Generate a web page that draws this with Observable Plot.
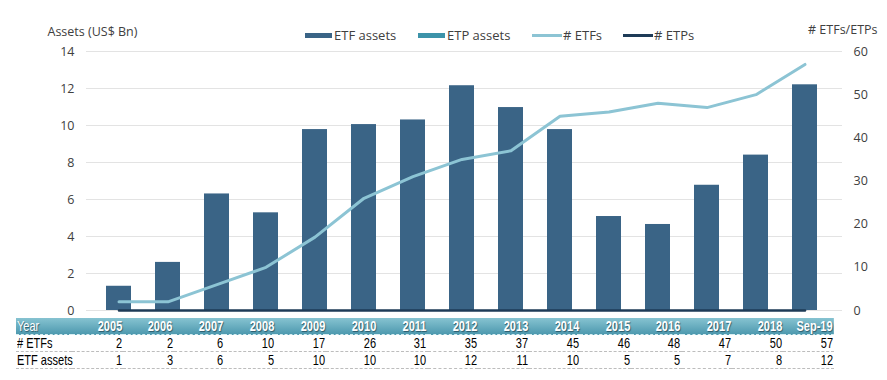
<!DOCTYPE html>
<html><head><meta charset="utf-8">
<script src="https://cdn.jsdelivr.net/npm/d3@7"></script>
<script src="https://cdn.jsdelivr.net/npm/@observablehq/plot@0.6"></script>
<style>
body{margin:0;background:#fff;}
#wrap{position:relative;width:887px;height:380px;font-family:"Open Sans",sans-serif;overflow:hidden;}
#wrap svg{position:absolute;left:0;top:0;}
.leg{position:absolute;top:27px;height:16px;font-size:13px;color:#404040;line-height:16px;white-space:nowrap;}
.sw{position:absolute;left:0;top:6px;width:27px;height:5px;}
.ln{position:absolute;left:0;top:7px;width:30px;height:3px;}
.leg span.t{position:absolute;white-space:nowrap;}
#tbl{position:absolute;left:16px;top:318px;width:818px;border-collapse:collapse;table-layout:fixed;font-family:"Liberation Sans",Arial,sans-serif;font-size:14.5px;}
#tbl td{padding:0 1px 0 0;height:16px;line-height:16px;text-align:right;white-space:nowrap;overflow:visible;}
#tbl td span{display:inline-block;transform:scaleX(0.76);transform-origin:right center;}
#tbl td.lab{text-align:left;padding-left:1px;}
#tbl td.lab span{transform-origin:left center;}
#tbl tr.hd td{color:#fff;font-weight:bold;text-shadow:1px 1px 1px #2b5b6c;border-bottom:1px dashed #d7eef3;}
#tbl tr.hd{background:linear-gradient(#86c3d1,#4b97ad);}
#tbl tr.hd td.lab{font-weight:normal;}
#tbl tr.bd td{color:#000;border-bottom:1px dashed #bdbdbd;}
</style></head><body><div id="wrap"></div>
<script>
const years = ["2005","2006","2007","2008","2009","2010","2011","2012","2013","2014","2015","2016","2017","2018","Sep-19"];
const etfAssets = [1.31, 2.6, 6.3, 5.28, 9.78, 10.05, 10.3, 12.15, 10.97, 9.78, 5.08, 4.65, 6.77, 8.4, 12.2];
const numEtfs = [2, 2, 6, 10, 17, 26, 31, 35, 37, 45, 46, 48, 47, 50, 57];
const numEtps = [0, 0, 0, 0, 0, 0, 0, 0, 0, 0, 0, 0, 0, 0, 0];
const tableAssets = [1, 3, 6, 5, 10, 10, 10, 12, 11, 10, 5, 5, 7, 8, 12];
const leftTicks = [0, 2, 4, 6, 8, 10, 12, 14];
const rightTicks = [0, 10, 20, 30, 40, 50, 60];
const legendItems = [
  {name: "ETF assets", kind: "bar", color: "#3a6486"},
  {name: "ETP assets", kind: "bar", color: "#3c93a9"},
  {name: "# ETFs", kind: "line", color: "#8cc4d4"},
  {name: "# ETPs", kind: "line", color: "#1e3b57"}
];

const data = years.map((year, i) => ({year, assets: etfAssets[i], etfs: numEtfs[i], etps: numEtps[i]}));
const k = 14 / 60;

const plot = Plot.plot({
  width: 887, height: 380,
  marginTop: 51, marginBottom: 70, marginLeft: 86, marginRight: 45,
  style: {fontFamily: "Open Sans", fontSize: "12.5px", color: "#404040", background: "transparent"},
  x: {domain: years, range: [87, 835], paddingInner: 0.5, paddingOuter: 0.25, axis: null},
  y: {domain: [0, 14], axis: null},
  marks: [
    Plot.ruleY(leftTicks, {stroke: "#e3e3e3", strokeWidth: 1}),
    Plot.barY(data, {x: "year", y: "assets", fill: legendItems[0].color}),
    Plot.lineY(data, {x: "year", y: d => d.etps * k, stroke: legendItems[3].color, strokeWidth: 2.5}),
    Plot.lineY(data, {x: "year", y: d => d.etfs * k, stroke: legendItems[2].color, strokeWidth: 3}),
    Plot.axisY(leftTicks, {anchor: "left", tickSize: 0, tickPadding: 12, label: null}),
    Plot.axisY(rightTicks.map(v => v * k), {anchor: "right", tickSize: 0, tickPadding: 11, tickFormat: d => Math.round(d / k), label: null}),
    Plot.text(["Assets (US$ Bn)"], {text: d => d, frameAnchor: "top-left", dx: -39, dy: -24, textAnchor: "start"}),
    Plot.text(["# ETFs/ETPs"], {text: d => d, frameAnchor: "top-right", dx: 35, dy: -26, textAnchor: "end"})
  ]
});

const wrap = document.getElementById("wrap");
wrap.appendChild(plot);

// legend
const legLeft = [305, 418, 532, 623];
legendItems.forEach((it, i) => {
  const d = document.createElement("div");
  d.className = "leg";
  d.style.left = legLeft[i] + "px";
  const s = document.createElement("div");
  s.className = it.kind === "bar" ? "sw" : "ln";
  s.style.background = it.color;
  d.appendChild(s);
  const t = document.createElement("span");
  t.className = "t";
  t.style.left = (it.kind === "bar" ? 29 : 31) + "px";
  t.textContent = it.name;
  d.appendChild(t);
  wrap.appendChild(d);
});

// data table
const tbl = document.createElement("table");
tbl.id = "tbl";
const cg = document.createElement("colgroup");
const c0 = document.createElement("col"); c0.style.width = "56px"; cg.appendChild(c0);
years.forEach(() => { const c = document.createElement("col"); c.style.width = "50.8px"; cg.appendChild(c); });
tbl.appendChild(cg);
function row(cls, label, vals) {
  const tr = document.createElement("tr");
  tr.className = cls;
  const l = document.createElement("td"); l.className = "lab";
  const ls = document.createElement("span"); ls.textContent = label; l.appendChild(ls); tr.appendChild(l);
  vals.forEach(v => {
    const td = document.createElement("td");
    const s = document.createElement("span"); s.textContent = v; td.appendChild(s);
    tr.appendChild(td);
  });
  tbl.appendChild(tr);
}
row("hd", "Year", years);
row("bd", "# ETFs", numEtfs);
row("bd", "ETF assets", tableAssets);
wrap.appendChild(tbl);
</script>
</body></html>
